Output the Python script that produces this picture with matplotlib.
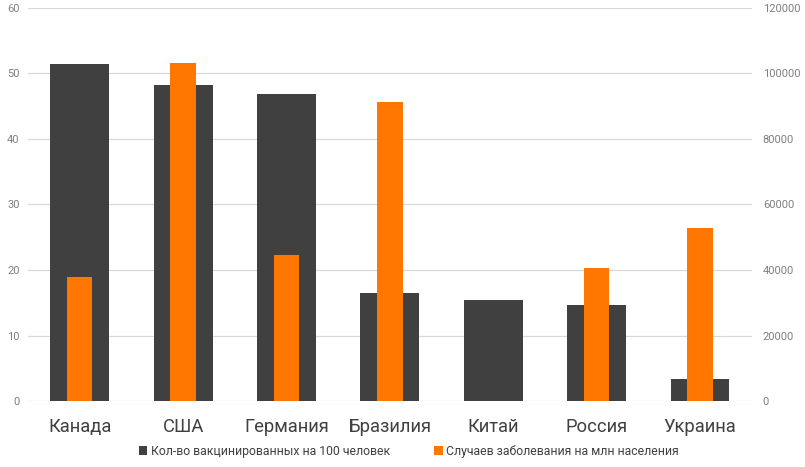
import matplotlib
matplotlib.use('Agg')
import matplotlib.pyplot as plt
import numpy as np

plt.rcParams['font.family'] = ['Roboto', 'DejaVu Sans']

countries = ['Канада', 'США', 'Германия', 'Бразилия', 'Китай', 'Россия', 'Украина']
vaccinated = [51.5, 48.2, 46.9, 16.5, 15.4, 14.7, 3.4]
cases = [37900, 103200, 44600, 91300, 0, 40600, 52800]

dark = '#404040'
orange = '#ff7700'
grid_c = '#d9d9d9'
tick_c = '#7f7f7f'

fig = plt.figure(figsize=(8.05, 4.67), dpi=100)
ax = fig.add_axes([0.0348, 0.1413, 0.899, 0.8417])
ax2 = ax.twinx()

x = np.arange(len(countries))
ax.bar(x, vaccinated, width=0.57, color=dark, zorder=2,
       label='Кол-во вакцинированных на 100 человек')
ax2.bar(x, cases, width=0.245, color=orange, zorder=3,
        label='Случаев заболевания на млн населения')

ax.set_ylim(0, 60)
ax.set_yticks(range(0, 61, 10))
ax2.set_ylim(0, 120000)
ax2.set_yticks(range(0, 120001, 20000))
ax.set_xlim(-0.5, len(countries) - 0.5)

ax.grid(axis='y', color=grid_c, lw=0.9, zorder=0)
ax.set_axisbelow(True)
for a in (ax, ax2):
    for s in a.spines.values():
        s.set_visible(False)
    a.tick_params(length=0, labelsize=8, labelcolor=tick_c)
ax.tick_params(axis='y', pad=6)
ax2.tick_params(axis='y', pad=8)

ax.set_xticks(x)
ax.set_xticklabels(countries, fontsize=13.2, color=dark)
ax.tick_params(axis='x', pad=12)

h1, l1 = ax.get_legend_handles_labels()
h2, l2 = ax2.get_legend_handles_labels()
fig.legend(h1 + h2, l1 + l2, loc='center', bbox_to_anchor=(0.508, 1 - 451 / 467),
           ncol=2, frameon=False, fontsize=8.8, labelcolor=dark,
           handlelength=0.7, handleheight=0.7, handletextpad=0.3, columnspacing=3.6)

fig.savefig('out.png', dpi=100)
